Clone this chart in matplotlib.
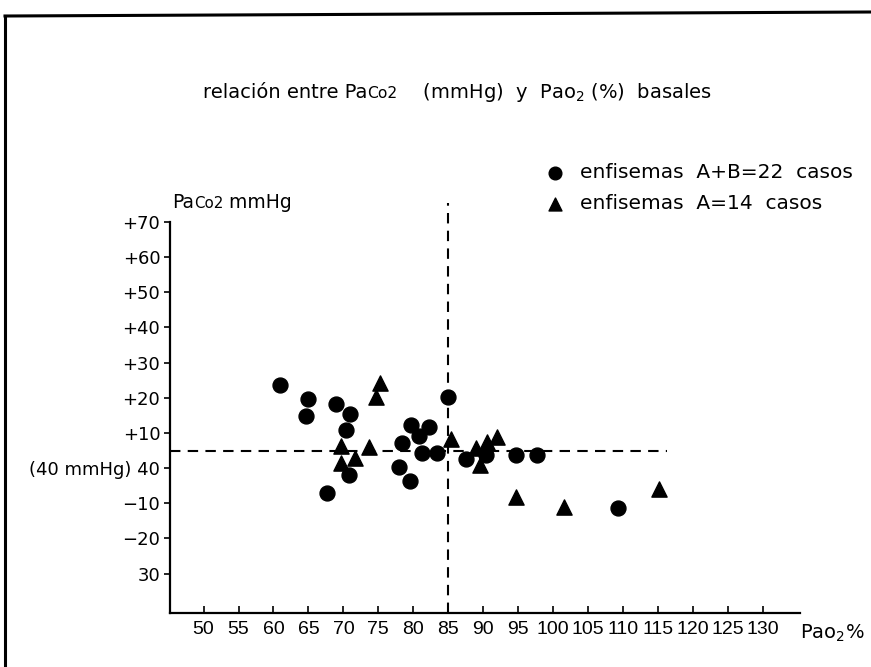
import matplotlib
matplotlib.use('Agg')
import matplotlib.pyplot as plt
from matplotlib.lines import Line2D
from matplotlib.offsetbox import TextArea, HPacker, AnchoredOffsetbox

# ---- data ----
circle_x = [61.0, 65.0, 64.7, 69.0, 71.0, 70.3, 70.8, 67.7, 78.4, 77.9, 79.5,
            79.6, 80.8, 82.2, 81.2, 83.4, 85.0, 87.6, 90.4, 94.7, 97.7, 109.2]
circle_y = [23.6, 19.8, 14.8, 18.1, 15.3, 10.8, -2.0, -7.0, 7.2, 0.4, -3.6,
            12.2, 9.1, 11.6, 4.3, 4.2, 20.1, 2.6, 3.7, 3.7, 3.7, -11.2]
tri_x = [75.3, 74.6, 69.6, 69.6, 71.6, 73.7, 85.4, 88.9, 89.5, 90.5, 92.0,
         94.7, 101.5, 115.1]
tri_y = [24.1, 20.3, 6.3, 1.5, 2.8, 5.9, 8.4, 5.6, 0.9, 7.5, 8.9,
         -8.1, -11.0, -5.8]

x_ticks = list(range(50, 131, 5))
x_labels = [str(v) for v in x_ticks]
y_ticks = [70, 60, 50, 40, 30, 20, 10, 0, -10, -20, -30]
y_labels = ['+70', '+60', '+50', '+40', '+30', '+20', '+10',
            '(40 mmHg) 40', '\u221210', '\u221220', '30']
ref_x = 85
ref_y = 5
label_circle = 'enfisemas  A+B=22  casos'
label_tri = 'enfisemas  A=14  casos'

plt.rcParams['font.family'] = ['DejaVu Sans']
plt.rcParams['mathtext.fontset'] = 'dejavusans'

W, H = 871, 667
fig = plt.figure(figsize=(W / 100, H / 100), dpi=100)
fig.patch.set_facecolor('white')

left, right, bottom, top = 170, 800, 613, 222
ax = fig.add_axes([left / W, 1 - bottom / H, (right - left) / W, (bottom - top) / H])
ax.set_xlim(45.2, 135.3)
ax.set_ylim(-41.2, 69.9)

for s in ['top', 'right']:
    ax.spines[s].set_visible(False)
for s in ['left', 'bottom']:
    ax.spines[s].set_linewidth(1.6)
    ax.spines[s].set_color('black')

ax.set_xticks(x_ticks)
ax.set_xticklabels(x_labels, family=['Liberation Sans', 'DejaVu Sans'], fontsize=14)
ax.set_yticks(y_ticks)
ax.set_yticklabels(y_labels, fontsize=13)
ax.tick_params(axis='x', direction='in', length=5, width=1.2, pad=6)
ax.tick_params(axis='y', direction='out', length=4, width=1.2, pad=3)

# dashed reference lines
ax.plot([45.2, 116.3], [ref_y, ref_y], color='black', lw=1.5,
        dashes=(5, 3.5), clip_on=False, zorder=1)
ax.plot([ref_x, ref_x], [-41.2, 75.5], color='black', lw=1.5,
        dashes=(5, 3.5), clip_on=False, zorder=1)

sc1 = ax.scatter(circle_x, circle_y, s=115, marker='o', color='black',
                 zorder=3, clip_on=False, label=label_circle)
sc2 = ax.scatter(tri_x, tri_y, s=120, marker='^', color='black',
                 zorder=3, clip_on=False, label=label_tri)

leg = ax.legend(handles=[sc1, sc2], labels=[label_circle, label_tri],
                loc='upper left', bbox_to_anchor=(545 / W, 1 - 163 / H),
                bbox_transform=fig.transFigure, frameon=False, fontsize=14.5,
                handlelength=1.0, handletextpad=0.75, labelspacing=0.6,
                borderaxespad=0, borderpad=0, markerscale=0.85, scatterpoints=1)

# x-axis label
fig.text(800 / W, 1 - 633 / H, 'Pao$_2$%', fontsize=14, ha='left', va='center')


def mixed_text(parts, xy, fsize):
    boxes = [TextArea(t, textprops=dict(fontsize=fsize * sc, color='black'))
             for t, sc in parts]
    pk = HPacker(children=boxes, align='baseline', pad=0, sep=0)
    ab = AnchoredOffsetbox(loc='center left', child=pk, pad=0, frameon=False,
                           bbox_to_anchor=xy, bbox_transform=fig.transFigure,
                           borderpad=0)
    fig.add_artist(ab)


# title
mixed_text([('relación entre Pa', 1.0), ('Co2', 0.8),
            ('    (mmHg)  y  Pao$_2$ (%)  basales', 1.0)],
           (203 / W, 1 - 93 / H), 14)
# y-axis label
mixed_text([('Pa', 1.0), ('Co2', 0.8), (' mmHg', 1.0)],
           (172 / W, 1 - 203 / H), 13.5)

# frame lines of the scanned page
fig.add_artist(Line2D([5 / W, 5 / W], [0, 1 - 16 / H], transform=fig.transFigure,
                      color='black', lw=2.2))
fig.add_artist(Line2D([5 / W, 1], [1 - 16 / H, 1 - 12 / H], transform=fig.transFigure,
                      color='black', lw=2.2))

fig.savefig('out.png', dpi=100, facecolor='white')
